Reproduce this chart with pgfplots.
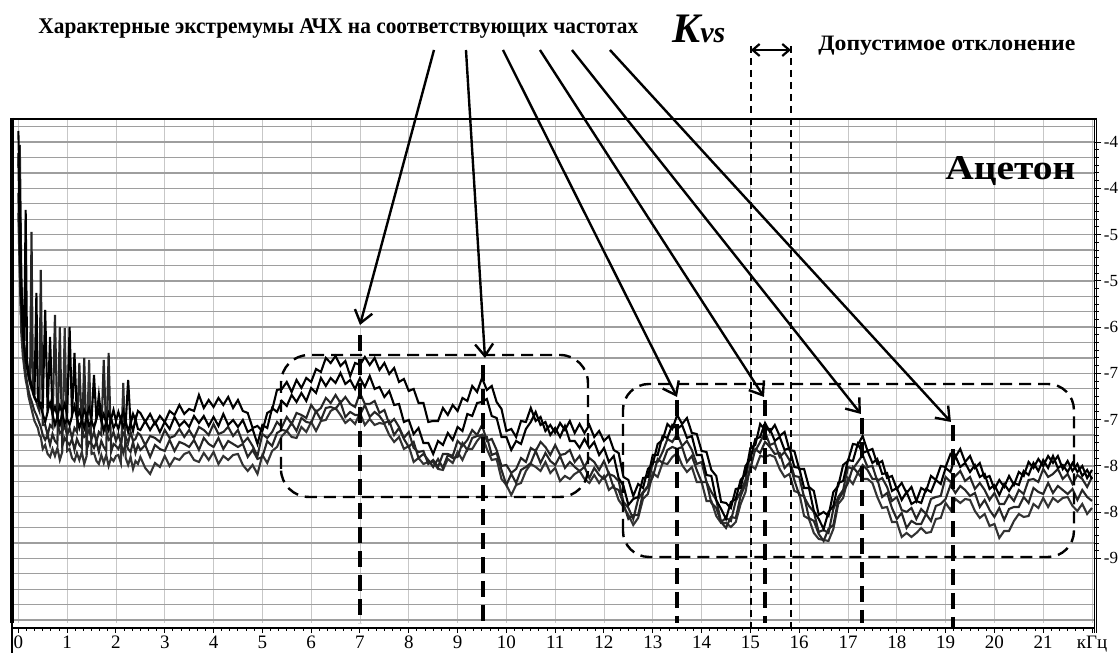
\documentclass[border=0pt]{standalone}
\usepackage{fontspec}
\setmainfont{Liberation Serif}
\usepackage{graphicx}
\usepackage{pgfplots}
\usepackage{pgfplotstable}
\pgfplotsset{compat=1.18}
\usetikzlibrary{arrows.meta}

% x in kHz, y in plot-height units (0 = bottom of the plot, 504 = top)
\pgfplotstableread{
x a b c d e
0.00 470 492 455 430 410
0.03 380 430 478 360 345
0.06 320 340 350 300 290
0.09 292 305 300 278 268
0.12 275 282 280 262 255
0.15 262 413 266 250 243
0.18 255 262 256 240 236
0.21 247 250 246 232 226
0.24 240 244 240 226 220
0.27 236 238 391 222 214
0.30 230 233 230 217 208
0.33 226 228 225 212 202
0.37 222 330 221 208 198
0.40 224 224 216 204 195
0.43 218 220 212 200 188
0.46 220 216 353 196 186
0.50 217 209 198 188 174
0.55 313 201 198 183 178
0.60 212 211 188 188 169
0.65 220 286 198 178 166
0.70 209 209 195 189 174
0.75 216 198 308 182 167
0.80 207 206 199 179 175
0.85 217 198 190 296 163
0.90 211 210 192 177 171
0.95 219 199 197 185 295
1.00 208 204 188 181 172
1.05 296 198 195 178 174
1.10 208 207 185 184 165
1.15 217 270 195 173 162
1.20 205 206 191 184 170
1.25 212 195 260 178 163
1.30 203 203 195 175 171
1.35 213 195 186 265 159
1.40 207 207 188 173 167
1.45 215 197 193 181 263
1.50 204 202 184 179 169
1.55 248 195 191 175 170
1.60 204 205 181 181 162
1.65 213 228 191 171 159
1.70 202 204 188 182 168
1.75 209 192 263 176 160
1.80 200 201 192 172 168
1.85 210 193 183 270 157
1.90 204 205 185 171 165
1.95 213 195 191 179 162
2.00 202 200 182 177 167
2.05 211 194 189 174 168
2.10 203 204 180 180 160
2.15 212 196 190 170 240
2.20 200 202 186 180 165
2.25 243 191 180 174 158
2.30 199 200 191 171 166
2.35 209 192 182 181 154
2.40 203 204 184 170 162
2.45 212 194 190 178 159
2.5 210 193 188 173 166
2.6 201 202 178 178 155
2.7 209 193 187 166 149
2.8 199 201 185 178 160
2.9 207 191 181 174 156
3.0 201 201 193 172 167
3.1 212 194 185 183 157
3.2 208 206 187 172 165
3.3 218 197 194 181 163
3.4 209 202 186 179 169
3.5 214 196 193 176 171
3.6 212 207 185 183 163
3.7 228 200 196 173 161
3.8 215 207 193 185 170
3.9 223 197 188 179 163
4.0 216 206 199 176 171
4.1 225 197 189 185 159
4.2 218 209 191 174 167
4.3 226 198 196 182 163
4.4 215 203 187 179 168
4.5 223 196 193 176 169
4.6 212 203 180 179 158
4.7 210 191 185 166 152
4.8 195 194 177 173 158
4.9 197 179 167 164 149
5.0 192 198 189 166 168
5.1 210 195 185 182 160
5.2 213 215 191 177 172
5.3 233 211 201 190 176
5.4 234 222 196 193 187
5.5 241 217 206 192 192
5.6 231 228 199 200 186
5.7 243 221 210 192 185
5.8 235 230 208 205 196
5.9 245 222 205 201 191
6.0 241 235 218 200 201
6.1 254 230 211 212 192
6.2 251 245 215 203 202
6.3 265 237 225 215 203
6.4 260 245 220 216 212
6.5 267 240 228 214 215
6.6 257 250 220 221 208
6.7 262 239 226 206 200
6.8 247 243 219 211 204
6.9 260 234 216 208 199
7.0 258 245 230 208 210
7.1 266 236 219 218 198
7.2 258 247 219 206 204
7.3 265 234 222 211 198
7.4 253 236 210 207 200
7.5 260 226 213 200 199
7.6 249 232 199 202 188
7.7 255 218 204 188 181
7.8 241 219 196 195 186
7.9 244 201 185 184 174
8.0 232 203 191 176 177
8.1 234 189 175 181 161
8.2 220 195 171 165 165
8.3 220 180 172 169 159
8.4 201 180 159 163 161
8.5 202 169 163 156 161
8.6 202 182 156 164 154
8.7 215 178 169 155 153
8.8 208 190 169 168 164
8.9 218 183 167 165 160
9.0 212 196 182 166 171
9.1 225 192 177 180 163
9.2 222 209 183 173 174
9.3 237 207 193 185 174
9.4 231 220 188 187 182
9.5 245 221 198 188 188
9.6 233 224 182 186 174
9.7 237 207 184 168 163
9.8 221 205 173 170 164
9.9 214 186 157 153 144
10.0 192 186 158 138 138
10.1 194 173 150 149 128
10.2 186 182 154 140 138
10.3 202 179 165 153 140
10.4 201 194 161 156 152
10.5 215 201 175 160 159
10.6 202 211 172 172 156
10.7 206 198 181 160 152
10.8 192 201 176 170 161
10.9 198 188 168 162 150
11.0 190 195 178 158 155
11.1 200 186 168 167 142
11.2 193 197 169 155 147
11.3 202 182 173 161 144
11.4 190 182 161 156 149
11.5 199 175 167 152 152
11.6 190 184 156 156 144
11.7 198 175 165 145 140
11.8 186 181 161 155 148
11.9 192 168 153 148 140
12.0 182 175 162 144 147
12.1 187 161 149 150 133
12.2 173 167 147 135 137
12.3 170 145 142 133 123
12.4 146 137 121 119 116
12.5 143 118 115 104 108
12.6 127 124 104 108 98
12.7 139 126 124 108 105
12.8 135 145 131 130 124
12.9 154 146 137 136 129
13.0 159 168 161 146 150
13.1 179 168 161 164 146
13.2 183 187 171 160 160
13.3 199 185 184 173 159
13.4 194 198 181 176 166
13.5 208 194 189 174 170
13.6 199 198 177 176 158
13.7 205 185 182 161 151
13.8 190 187 173 167 156
13.9 189 168 159 153 141
14.0 172 168 161 141 141
14.1 171 148 141 141 122
14.2 153 147 131 120 122
14.3 147 123 123 115 107
14.4 121 114 101 101 100
14.5 120 104 105 95 100
14.6 115 121 102 106 96
14.7 134 124 122 105 101
14.8 135 143 131 127 119
14.9 157 149 143 139 131
15.0 164 175 171 154 158
15.1 184 178 172 174 154
15.2 186 199 181 170 167
15.3 200 193 191 181 166
15.4 191 194 178 176 168
15.5 198 182 180 169 166
15.6 187 186 166 170 154
15.7 191 173 171 155 146
15.8 173 175 163 160 149
15.9 172 156 147 143 132
16.0 154 155 146 128 130
16.1 154 135 126 127 107
16.2 136 135 117 105 104
16.3 132 112 111 102 90
16.4 108 104 91 89 84
16.5 111 94 93 82 83
16.6 107 111 90 94 82
16.7 131 117 114 98 94
16.8 137 140 126 123 119
16.9 158 142 133 131 125
17.0 162 163 156 140 145
17.1 179 162 154 156 139
17.2 178 179 161 150 150
17.3 187 170 168 158 144
17.4 172 172 156 153 144
17.5 174 160 157 144 140
17.6 159 164 142 144 126
17.7 162 149 145 126 115
17.8 145 150 136 130 116
17.9 147 132 122 115 101
18.0 134 135 126 104 101
18.1 140 123 113 110 86
18.2 130 131 111 95 90
18.3 136 119 115 102 86
18.4 122 122 104 99 90
18.5 135 120 114 99 95
18.6 132 134 109 109 90
18.7 147 131 124 102 91
18.8 143 143 126 117 104
18.9 157 139 127 119 105
19.0 156 155 146 124 120
19.1 169 151 141 138 113
19.2 166 167 147 130 124
19.3 174 156 152 137 120
19.4 161 160 142 133 124
19.5 167 151 146 127 123
19.6 155 158 134 130 112
19.7 160 146 140 116 105
19.8 145 149 133 123 109
19.9 147 134 123 113 97
20.0 134 138 130 106 99
20.1 143 128 119 115 85
20.2 136 139 119 103 92
20.3 147 132 128 114 92
20.4 138 140 122 116 102
20.5 151 138 133 116 109
20.6 147 152 129 126 106
20.7 161 148 143 120 107
20.8 155 160 144 135 119
20.9 164 152 141 131 115
21.0 157 163 154 129 125
21.1 167 155 146 140 116
21.2 160 167 149 130 125
21.3 167 155 154 137 121
21.4 154 158 144 133 125
21.5 162 151 149 129 126
21.6 152 160 139 134 117
21.7 159 151 148 123 112
21.8 147 157 144 133 119
21.9 153 145 136 126 109
22.0 144 153 146 122 115
}\data

\begin{document}
\begin{tikzpicture}
\begin{scope}[x=0.5pt,y=0.5pt]
\useasboundingbox (0,0) rectangle (1120,653);
\end{scope}

% main plot
\begin{axis}[
  at={(6pt,15pt)}, anchor=south west,
  scale only axis, width=541.75pt, height=252pt,
  xmin=-0.13, xmax=22.07, ymin=0, ymax=504,
  axis line style={draw=none},
  xtick={0,...,22}, xticklabels={}, xmajorgrids,
  major grid style={black!22, line width=0.45pt},
  xtick style={draw=none},
  ytick={480.88,434.62,388.36,342.1,295.84,249.58,203.32,157.06,110.8,64.54},
  yticklabels={-4,-4,-5,-5,-6,-7,-7,-8,-8,-9},
  ytick pos=right, yticklabel pos=right, tick align=outside,
  minor y tick num=5,
  major tick length=3pt, minor tick length=1.6pt,
  ytick style={black, line width=0.5pt},
  yticklabel style={font=\fontsize{8.5}{8.5}\selectfont, inner sep=1pt},
  extra y ticks={2.86,18.28,33.7,49.12,64.54,79.96,95.38,110.8,126.22,141.64,157.06,172.48,187.9,203.32,218.74,234.16,249.58,265,280.42,295.84,311.26,326.68,342.1,357.52,372.94,388.36,403.78,419.2,434.62,450.04,465.46,480.88,496.3},
  extra y tick labels={},
  extra y tick style={grid=major, major grid style={black!38, line width=0.65pt}, tick style={draw=none}},
]
\addplot[black!80, line width=1.05pt] table[x=x, y=e] {\data};
\addplot[black!85, line width=1.05pt] table[x=x, y=d] {\data};
\addplot[black!85, line width=1.05pt] table[x=x, y=c] {\data};
\addplot[black, line width=1.05pt] table[x=x, y=b] {\data};
\addplot[black, line width=1.05pt] table[x=x, y=a] {\data};
\end{axis}

% frequency ruler below the plot
\begin{axis}[
  at={(6pt,12.5pt)}, anchor=south west,
  scale only axis, width=541.75pt, height=2pt,
  xmin=-0.13, xmax=22.07, ymin=0, ymax=1,
  axis x line=bottom, axis y line=none,
  x axis line style={-, line width=0.7pt},
  xtick={0,...,22},
  xticklabels={0,1,2,3,4,5,6,7,8,9,10,11,12,13,14,15,16,17,18,19,20,21,кГц},
  minor x tick num=5, tick align=outside,
  major tick length=2.5pt, minor tick length=1.5pt,
  xtick style={black, line width=0.5pt},
  xticklabel style={font=\fontsize{9.5}{9.5}\selectfont, inner sep=0pt, anchor=base, yshift=-8pt},
  ytick=\empty,
]
\end{axis}

\begin{scope}[x=0.5pt,y=0.5pt]
% frame
\draw[line width=1.25pt] (12,534) -- (1096,534);
\draw[line width=1.6pt] (12,535) -- (12,30);
\draw[line width=0.6pt] (12,30) -- (12,0);
\draw[line width=0.7pt] (1094.3,535) -- (1094.3,20);
\draw[line width=0.5pt] (1097,535) -- (1097,20);

% texts
\node[anchor=base west, inner sep=0pt] at (38,619)
  {\resizebox{300pt}{7.4pt}{\bfseries Характерные экстремумы АЧХ на соответствующих частотах}};
\node[anchor=base west, inner sep=0pt] at (672,610)
  {\fontsize{21}{21}\selectfont\bfseries\itshape K\fontsize{15}{15}\selectfont vs};
\node[anchor=base west, inner sep=0pt] at (818,602)
  {\resizebox{128.5pt}{7.2pt}{\bfseries Допустимое отклонение}};
\node[anchor=base west, inner sep=0pt] at (945,473)
  {\resizebox{65pt}{11.5pt}{\bfseries Ацетон}};

% permissible deviation
\draw[line width=1.1pt, {Straight Barb[length=3.5pt,width=6pt]}-{Straight Barb[length=3.5pt,width=6pt]}] (751,603) -- (791,603);
\draw[line width=0.7pt, dash pattern=on 3.5pt off 2.5pt] (751,607) -- (751,25);
\draw[line width=0.7pt, dash pattern=on 3.5pt off 2.5pt] (791,607) -- (791,25);

% arrows to the extrema
\begin{scope}[line width=1.2pt, -{Straight Barb[length=6pt,width=9pt]}]
\draw (434,603) -- (360,328);
\draw (466,603) -- (485,295);
\draw (503,603) -- (677,256);
\draw (540,603) -- (764,256);
\draw (572,603) -- (861,239);
\draw (610,603) -- (951,231);
\end{scope}

% thick dashed markers
\begin{scope}[line width=2pt, dash pattern=on 8pt off 4pt]
\draw (360,318) -- (360,30);
\draw (483,288) -- (483,30);
\draw (677,253) -- (677,30);
\draw (765,253) -- (765,30);
\draw (862,235) -- (862,30);
\draw (953,228) -- (953,25);
\end{scope}

% rounded dashed regions
\draw[line width=1.2pt, dash pattern=on 6pt off 3.5pt, rounded corners=14pt] (281,156) rectangle (588,298);
\draw[line width=1.2pt, dash pattern=on 6pt off 3.5pt, rounded corners=13pt] (623,96) rectangle (1074,269);
\end{scope}
\end{tikzpicture}
\end{document}
